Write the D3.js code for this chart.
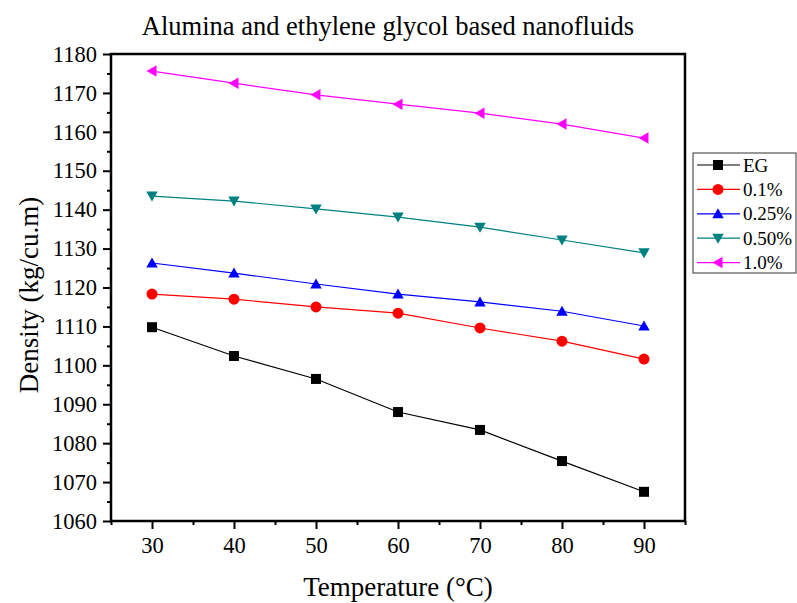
<!DOCTYPE html>
<html>
<head>
<meta charset="utf-8">
<script src="https://cdn.jsdelivr.net/npm/d3@7"></script>
<style>
  body { margin: 0; background: #fff; }
  svg, svg text { font-family: "Liberation Serif", "Times New Roman", serif; }
</style>
</head>
<body>
<svg id="chart" width="797" height="603"></svg>
<script>
var temps = [30, 40, 50, 60, 70, 80, 90];
var eg = [1109.8, 1102.4, 1096.5, 1088.0, 1083.4, 1075.4, 1067.5];
var p01 = [1118.3, 1117.0, 1115.0, 1113.4, 1109.6, 1106.2, 1101.6];
var p025 = [1126.3, 1123.7, 1120.9, 1118.3, 1116.3, 1113.9, 1110.1];
var p050 = [1143.5, 1142.2, 1140.2, 1138.1, 1135.5, 1132.2, 1128.9];
var p10 = [1175.6, 1172.5, 1169.5, 1167.1, 1164.8, 1162.0, 1158.4];
var names = ['EG', '0.1%', '0.25%', '0.50%', '1.0%'];
var xTicks = [30, 40, 50, 60, 70, 80, 90];
var yTicks = [1060, 1070, 1080, 1090, 1100, 1110, 1120, 1130, 1140, 1150, 1160, 1170, 1180];

var series = [
  {name: names[0], values: eg, color: '#000000', shape: 'square'},
  {name: names[1], values: p01, color: '#ff0000', shape: 'circle'},
  {name: names[2], values: p025, color: '#0000ff', shape: 'up'},
  {name: names[3], values: p050, color: '#008080', shape: 'down'},
  {name: names[4], values: p10, color: '#ff00ff', shape: 'left'}
];

var margin = {top: 54, right: 112, bottom: 82, left: 111};
var width = 797 - margin.left - margin.right;
var height = 603 - margin.top - margin.bottom;

var svg = d3.select('#chart');
var g = svg.append('g')
    .attr('transform', 'translate(' + margin.left + ',' + margin.top + ')');

var x = d3.scaleLinear().domain([25, 95]).range([0, width]);
var y = d3.scaleLinear().domain([1060, 1180]).range([height, 0]);

function markerPath(shape, s) {
  if (shape === 'square') {
    return 'M' + (-s) + ',' + (-s) + 'H' + s + 'V' + s + 'H' + (-s) + 'Z';
  }
  if (shape === 'up') {
    return 'M0,' + (-s * 1.1) + 'L' + (s * 1.15) + ',' + (s * 0.9) + 'L' + (-s * 1.15) + ',' + (s * 0.9) + 'Z';
  }
  if (shape === 'down') {
    return 'M0,' + (s * 1.1) + 'L' + (s * 1.15) + ',' + (-s * 0.9) + 'L' + (-s * 1.15) + ',' + (-s * 0.9) + 'Z';
  }
  if (shape === 'left') {
    return 'M' + (-s * 1.1) + ',0L' + (s * 0.9) + ',' + (-s * 1.15) + 'L' + (s * 0.9) + ',' + (s * 1.15) + 'Z';
  }
  return null;
}

function drawMarker(sel, d, px, py) {
  if (d.shape === 'circle') {
    sel.append('circle').attr('cx', px).attr('cy', py).attr('r', 5.5).style('fill', d.color);
  } else {
    sel.append('path')
      .attr('d', markerPath(d.shape, 5))
      .attr('transform', 'translate(' + px + ',' + py + ')')
      .style('fill', d.color);
  }
}

// axes with major + minor ticks
var xMinor = d3.range(25, 96, 5).filter(function (v) { return v % 10 !== 0; });
var yMinor = d3.range(1065, 1180, 10);

g.append('g')
  .attr('transform', 'translate(0,' + height + ')')
  .call(d3.axisBottom(x).tickValues(xMinor).tickSize(4).tickFormat(''))
  .call(function (a) { a.select('.domain').remove(); a.selectAll('line').style('stroke-width', 2); });

var xAxis = g.append('g')
  .attr('transform', 'translate(0,' + height + ')')
  .call(d3.axisBottom(x).tickValues(xTicks).tickSize(8).tickPadding(8).tickSizeOuter(0));
xAxis.attr('font-family', null).attr('font-size', null);
xAxis.select('.domain').remove();
xAxis.selectAll('line').style('stroke-width', 2);
xAxis.selectAll('text').style('font-size', '22.5px').attr('fill', '#000');

g.append('g')
  .call(d3.axisLeft(y).tickValues(yMinor).tickSize(4).tickFormat(''))
  .call(function (a) { a.select('.domain').remove(); a.selectAll('line').style('stroke-width', 2); });

var yAxis = g.append('g')
  .call(d3.axisLeft(y).tickValues(yTicks).tickSize(8).tickPadding(6).tickFormat(d3.format('d')));
yAxis.attr('font-family', null).attr('font-size', null);
yAxis.select('.domain').remove();
yAxis.selectAll('line').style('stroke-width', 2);
yAxis.selectAll('text').style('font-size', '22.5px').attr('fill', '#000');

// frame
g.append('rect')
  .attr('x', 0).attr('y', 0)
  .attr('width', width).attr('height', height)
  .style('fill', 'none')
  .style('stroke', '#000')
  .style('stroke-width', 2.5);

// lines and markers
var line = d3.line()
  .x(function (d, i) { return x(temps[i]); })
  .y(function (d) { return y(d); });

series.forEach(function (s) {
  g.append('path')
    .datum(s.values)
    .attr('d', line)
    .style('fill', 'none')
    .style('stroke', s.color)
    .style('stroke-width', 1.2);
  var mg = g.append('g');
  s.values.forEach(function (v, i) {
    drawMarker(mg, s, x(temps[i]), y(v));
  });
});

// legend
var legend = svg.append('g').attr('transform', 'translate(693,153)');
legend.append('rect')
  .attr('x', 0).attr('y', 0)
  .attr('width', 103).attr('height', 120)
  .style('fill', '#fff')
  .style('stroke', '#333')
  .style('stroke-width', 1);

series.forEach(function (s, i) {
  var ly = 12 + i * 24.4;
  var row = legend.append('g');
  row.append('line')
    .attr('x1', 4).attr('x2', 47)
    .attr('y1', ly).attr('y2', ly)
    .style('stroke', s.color)
    .style('stroke-width', 1.2);
  drawMarker(row, s, 25, ly);
  row.append('text')
    .attr('x', 50).attr('y', ly)
    .attr('dy', '0.35em')
    .style('font-size', '19px')
    .text(s.name);
});

// titles
svg.append('text')
  .attr('x', 388).attr('y', 35)
  .attr('text-anchor', 'middle')
  .style('font-size', '26.5px')
  .text('Alumina and ethylene glycol based nanofluids');

svg.append('text')
  .attr('x', margin.left + width / 2).attr('y', 596)
  .attr('text-anchor', 'middle')
  .style('font-size', '27px')
  .text('Temperature (\u00B0C)');

svg.append('text')
  .attr('transform', 'translate(38,295) rotate(-90)')
  .attr('text-anchor', 'middle')
  .style('font-size', '27px')
  .text('Density (kg/cu.m)');
</script>
</body>
</html>
